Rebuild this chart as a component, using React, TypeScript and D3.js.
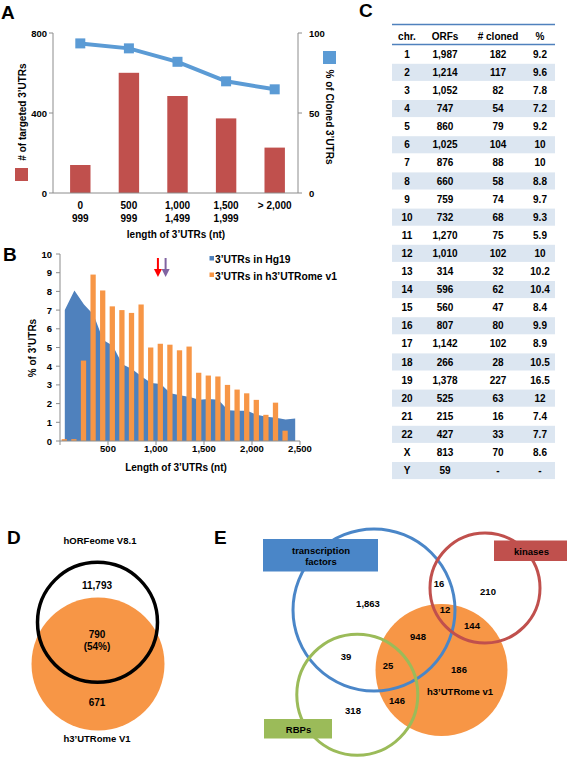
import React from 'react';
import * as d3 from 'd3';

const FONT = '"Liberation Sans", Arial, Helvetica, sans-serif';

// ---------- Panel A data ----------
const lengthBinsA = ['0-999', '500-999', '1,000-1,499', '1,500-1,999', '> 2,000'];
const lengthBinLabels = [['0', '999'], ['500', '999'], ['1,000', '1,499'], ['1,500', '1,999'], ['> 2,000']];
const targetedCounts = [140, 601, 485, 373, 227];
const clonedPercent = [93.5, 90.4, 82, 69.8, 64.8];
const leftTicksA = [0, 400, 800];
const rightTicksA = [0, 50, 100];

// ---------- Panel B data ----------
const binStartsB = [0, 100, 200, 300, 400, 500, 600, 700, 800, 900, 1000, 1100, 1200, 1300, 1400, 1500, 1600, 1700, 1800, 1900, 2000, 2100, 2200, 2300, 2400];
const hg19Pct = [7.0, 8.05, 7.3, 6.75, 5.4, 5.1, 4.1, 3.85, 3.45, 3.1, 3.05, 2.55, 2.45, 2.35, 2.2, 2.25, 2.2, 1.65, 1.62, 1.62, 1.4, 1.3, 1.25, 1.15, 1.2];
const utromePct = [0.1, 0.1, 4.3, 8.9, 8.05, 7.2, 7.0, 6.85, 7.3, 5.0, 5.2, 5.15, 4.85, 5.05, 3.65, 3.5, 3.45, 3.0, 2.75, 2.55, 2.2, 1.4, 2.05, 0.55, 0];
const xTicksB = [500, 1000, 1500, 2000, 2500];
const yTicksB = [0, 1, 2, 3, 4, 5, 6, 7, 8, 9, 10];
const medianLengths = [1020, 1100];
const legendB = ['3’UTRs in Hg19', '3’UTRs in h3’UTRome v1'];

// ---------- Panel C data ----------
const tableHeader = ['chr.', 'ORFs', '# cloned', '%'];
const chrs = ['1', '2', '3', '4', '5', '6', '7', '8', '9', '10', '11', '12', '13', '14', '15', '16', '17', '18', '19', '20', '21', '22', 'X', 'Y'];
const orfs = ['1,987', '1,214', '1,052', '747', '860', '1,025', '876', '660', '759', '732', '1,270', '1,010', '314', '596', '560', '807', '1,142', '266', '1,378', '525', '215', '427', '813', '59'];
const cloned = ['182', '117', '82', '54', '79', '104', '88', '58', '74', '68', '75', '102', '32', '62', '47', '80', '102', '28', '227', '63', '16', '33', '70', '-'];
const pctCloned = ['9.2', '9.6', '7.8', '7.2', '9.2', '10', '10', '8.8', '9.7', '9.3', '5.9', '10', '10.2', '10.4', '8.4', '9.9', '8.9', '10.5', '16.5', '12', '7.4', '7.7', '8.6', '-'];

// ---------- Panel D data ----------
const vennDSets = ['hORFeome V8.1', 'h3’UTRome V1'];
const vennDCounts = ['11,793', '790', '671'];
const vennDOverlapPct = '(54%)';

// ---------- Panel E data ----------
const vennESets = ['transcription factors', 'kinases', 'RBPs', 'h3’UTRome v1'];
const vennECounts = ['1,863', '16', '210', '12', '144', '948', '39', '25', '186', '146', '318'];

const BLUE = '#4f81bd';
const ORANGE = '#f79646';
const RED = '#c0504d';
const GREEN = '#9bbb59';
const AXIS = '#8c8c8c';

const txt = { fontFamily: FONT, fontWeight: 700 as const, fill: '#000' };

function PanelA() {
  const x = d3.scaleBand<string>().domain(lengthBinsA).range([56, 299]).padding(0);
  const yL = d3.scaleLinear().domain([0, 800]).range([193, 33]);
  const yR = d3.scaleLinear().domain([0, 100]).range([193, 33]);
  const bw = x.bandwidth() * 0.42;
  const cx = (c: string) => (x(c) as number) + x.bandwidth() / 2;
  const line = d3.line<number>().x((_, i) => cx(lengthBinsA[i])).y((d) => yR(d));
  return (
    <g>
      <text x={1} y={19} style={{ ...txt, fontSize: 19 }}>A</text>
      {targetedCounts.map((v, i) => (
        <rect key={i} x={cx(lengthBinsA[i]) - bw / 2} y={yL(v)} width={bw} height={yL(0) - yL(v)} fill={RED} />
      ))}
      <line x1={53} x2={53} y1={33} y2={193} stroke={AXIS} strokeWidth={1} />
      <line x1={298} x2={298} y1={33} y2={193} stroke={AXIS} strokeWidth={1} />
      <line x1={53} x2={298} y1={193} y2={193} stroke={AXIS} strokeWidth={1} />
      {leftTicksA.map((t) => (
        <g key={t}>
          <line x1={49} x2={53} y1={yL(t)} y2={yL(t)} stroke={AXIS} />
          <text x={47} y={yL(t) + 3.5} textAnchor="end" style={{ ...txt, fontSize: 9.5 }}>{t}</text>
        </g>
      ))}
      {rightTicksA.map((t) => (
        <g key={t}>
          <line x1={298} x2={302} y1={yR(t)} y2={yR(t)} stroke={AXIS} />
          <text x={309} y={yR(t) + 3.5} textAnchor="start" style={{ ...txt, fontSize: 9.5 }}>{t}</text>
        </g>
      ))}
      <path d={line(clonedPercent) || ''} fill="none" stroke="#5b9bd5" strokeWidth={4} />
      {clonedPercent.map((v, i) => (
        <rect key={i} x={cx(lengthBinsA[i]) - 5} y={yR(v) - 5} width={10} height={10} fill="#5b9bd5" />
      ))}
      {lengthBinLabels.map((lines, i) => (
        <text key={i} textAnchor="middle" style={{ ...txt, fontSize: 10 }}>
          {lines.map((l, j) => (
            <tspan key={j} x={cx(lengthBinsA[i])} y={209 + j * 12.7}>{l}</tspan>
          ))}
        </text>
      ))}
      <text x={176} y={238} textAnchor="middle" style={{ ...txt, fontSize: 10 }}>length of 3’UTRs (nt)</text>
      <text transform="translate(22,112) rotate(-90)" textAnchor="middle" dy="0.35em" style={{ ...txt, fontSize: 10 }}># of targeted 3’UTRs</text>
      <rect x={15} y={168} width={13} height={13} fill={RED} />
      <text transform="translate(329,117) rotate(90)" textAnchor="middle" dy="0.35em" style={{ ...txt, fontSize: 10 }}>% of Cloned 3’UTRs</text>
      <rect x={323} y={51} width={13} height={13} fill="#5b9bd5" />
    </g>
  );
}

function PanelB() {
  const xLin = d3.scaleLinear().domain([0, 2500]).range([60, 300]);
  const xb = d3.scaleBand<number>().domain(binStartsB).range([60, 300]).padding(0);
  const y = d3.scaleLinear().domain([0, 10]).range([441, 254]);
  const cx = (b: number) => (xb(b) as number) + xb.bandwidth() / 2;
  const area = d3.area<number>().x((_, i) => cx(binStartsB[i])).y0(y(0)).y1((d) => y(d));
  const barW = xb.bandwidth() * 0.55;
  const arrowColors = ['#ff0000', '#8064a2'];
  return (
    <g>
      <text x={3} y={261} style={{ ...txt, fontSize: 19 }}>B</text>
      <path d={area(hg19Pct) || ''} fill={BLUE} />
      {utromePct.map((v, i) => (
        <rect key={i} x={cx(binStartsB[i]) - barW / 2 - 0.5} y={y(v)} width={barW} height={y(0) - y(v)} fill={ORANGE} />
      ))}
      <line x1={60} x2={60} y1={254} y2={441} stroke={AXIS} />
      <line x1={60} x2={300} y1={441} y2={441} stroke={AXIS} />
      {yTicksB.map((t) => (
        <g key={t}>
          <line x1={56} x2={60} y1={y(t)} y2={y(t)} stroke={AXIS} />
          <text x={52} y={y(t) + 3.5} textAnchor="end" style={{ ...txt, fontSize: 9.5 }}>{t}</text>
        </g>
      ))}
      {[0, ...xTicksB].map((t) => (
        <line key={t} x1={xLin(t)} x2={xLin(t)} y1={441} y2={445} stroke={AXIS} />
      ))}
      {xTicksB.map((t) => (
        <text key={t} x={xLin(t)} y={452} textAnchor="middle" style={{ ...txt, fontSize: 9.5 }}>{d3.format(',')(t)}</text>
      ))}
      <text x={176} y={471} textAnchor="middle" style={{ ...txt, fontSize: 10 }}>Length of 3’UTRs (nt)</text>
      <text transform="translate(32,348) rotate(-90)" textAnchor="middle" dy="0.35em" style={{ ...txt, fontSize: 10 }}>% of 3’UTRs</text>
      {medianLengths.map((m, i) => {
        const ax = xLin(m);
        return (
          <g key={i}>
            <line x1={ax} x2={ax} y1={258} y2={270} stroke={arrowColors[i]} strokeWidth={2} />
            <path d={`M${ax - 4},${269} L${ax + 4},${269} L${ax},${277} Z`} fill={arrowColors[i]} />
          </g>
        );
      })}
      {legendB.map((l, i) => (
        <g key={i}>
          <rect x={209.5} y={256 + i * 16.5} width={4.5} height={4.5} fill={i === 0 ? BLUE : ORANGE} />
          <text x={215} y={263 + i * 16.5} style={{ ...txt, fontSize: 10.3 }}>{l}</text>
        </g>
      ))}
    </g>
  );
}

function PanelC() {
  const cols = [407, 445, 498, 540];
  const rowY = d3.scaleBand<string>().domain(chrs).range([45.2, 45.2 + 18.1 * chrs.length]);
  const colData = [chrs, orfs, cloned, pctCloned];
  return (
    <g>
      <text x={359} y={17} style={{ ...txt, fontSize: 19 }}>C</text>
      {chrs.map((c, i) =>
        i % 2 === 1 ? (
          <rect key={c} x={392} y={(rowY(c) as number) + 0.5} width={163} height={rowY.bandwidth() - 1} fill="#dce6f1" />
        ) : null
      )}
      <line x1={392} x2={555} y1={24.5} y2={24.5} stroke={BLUE} strokeWidth={1.5} />
      <line x1={392} x2={555} y1={44.5} y2={44.5} stroke={BLUE} strokeWidth={1.5} />
      {tableHeader.map((h, j) => (
        <text key={h} x={cols[j]} y={39.5} textAnchor="middle" style={{ ...txt, fontSize: 10 }}>{h}</text>
      ))}
      {chrs.map((c, i) =>
        colData.map((col, j) => (
          <text key={c + j} x={cols[j]} y={(rowY(c) as number) + rowY.bandwidth() / 2 + 3.6} textAnchor="middle" style={{ ...txt, fontSize: 10 }}>
            {col[i]}
          </text>
        ))
      )}
    </g>
  );
}

function PanelD() {
  return (
    <g>
      <text x={7} y={544} style={{ ...txt, fontSize: 19 }}>D</text>
      <text x={100} y={544} textAnchor="middle" style={{ ...txt, fontSize: 9.5 }}>{vennDSets[0]}</text>
      <circle cx={98} cy={664} r={66.5} fill={ORANGE} />
      <circle cx={97.5} cy={622.3} r={60} fill="none" stroke="#000" strokeWidth={3.5} />
      <text x={97} y={589} textAnchor="middle" style={{ ...txt, fontSize: 10 }}>{vennDCounts[0]}</text>
      <text x={97} y={638} textAnchor="middle" style={{ ...txt, fontSize: 10 }}>{vennDCounts[1]}</text>
      <text x={97} y={649.5} textAnchor="middle" style={{ ...txt, fontSize: 10 }}>{vennDOverlapPct}</text>
      <text x={97} y={705.5} textAnchor="middle" style={{ ...txt, fontSize: 10 }}>{vennDCounts[2]}</text>
      <text x={97} y={742} textAnchor="middle" style={{ ...txt, fontSize: 9.5 }}>{vennDSets[1]}</text>
    </g>
  );
}

function PanelE() {
  const countPos: [number, number][] = [
    [368, 603], [439, 583], [488, 591], [445, 609], [472, 625], [418, 636],
    [346, 656], [388, 665], [459, 669], [397, 700], [353, 710],
  ];
  return (
    <g>
      <text x={214} y={544} style={{ ...txt, fontSize: 19 }}>E</text>
      <circle cx={441.5} cy={670} r={66} fill={ORANGE} />
      <circle cx={374} cy={610} r={81} fill="none" stroke="#4a86c8" strokeWidth={3} />
      <circle cx={485} cy={588} r={55} fill="none" stroke={RED} strokeWidth={3} />
      <circle cx={357.3} cy={694.7} r={60.5} fill="none" stroke={GREEN} strokeWidth={3} />
      <rect x={263} y={539} width={115} height={32.5} fill="#4a86c8" />
      <text textAnchor="middle" style={{ ...txt, fontSize: 9.5 }}>
        <tspan x={321} y={554}>{vennESets[0].split(' ')[0]}</tspan>
        <tspan x={321} y={564.5}>{vennESets[0].split(' ')[1]}</tspan>
      </text>
      <rect x={494} y={540.5} width={73} height={20.5} fill={RED} />
      <text x={531.5} y={554.5} textAnchor="middle" style={{ ...txt, fontSize: 9.5 }}>{vennESets[1]}</text>
      <rect x={264} y={719} width={68} height={19.5} fill={GREEN} />
      <text x={298.5} y={732.5} textAnchor="middle" style={{ ...txt, fontSize: 9.5 }}>{vennESets[2]}</text>
      {vennECounts.map((c, i) => (
        <text key={i} x={countPos[i][0]} y={countPos[i][1] + 3.5} textAnchor="middle" style={{ ...txt, fontSize: 9.5 }}>{c}</text>
      ))}
      <text x={460} y={694.5} textAnchor="middle" style={{ ...txt, fontSize: 9.5 }}>{vennESets[3]}</text>
    </g>
  );
}

export default function App() {
  return (
    <svg
      width={567}
      height={757}
      viewBox="0 0 567 757"
      style={{ position: 'absolute', left: 0, top: 0, background: '#fff' }}
    >
      <rect x={0} y={0} width={567} height={757} fill="#fff" />
      <PanelA />
      <PanelB />
      <PanelC />
      <PanelD />
      <PanelE />
    </svg>
  );
}
